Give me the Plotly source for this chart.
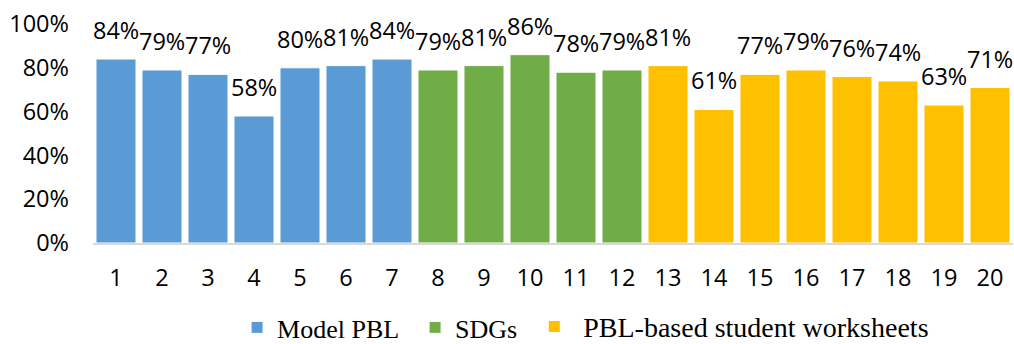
import plotly.graph_objects as go

# Item numbers and scores (%) per group
model_items = [1, 2, 3, 4, 5, 6, 7]
model_scores = [84, 79, 77, 58, 80, 81, 84]
sdg_items = [8, 9, 10, 11, 12]
sdg_scores = [79, 81, 86, 78, 79]
lks_items = [13, 14, 15, 16, 17, 18, 19, 20]
lks_scores = [81, 61, 77, 79, 76, 74, 63, 71]

y_ticks = [0, 20, 40, 60, 80, 100]

groups = [
    ("Model PBL", model_items, model_scores, "#5B9BD5", "legend"),
    ("SDGs", sdg_items, sdg_scores, "#70AD47", "legend"),
    ("PBL-based student worksheets", lks_items, lks_scores, "#FFC000", "legend2"),
]

sans = "Open Sans"
serif = "Liberation Serif"
fsize = 23.5

fig = go.Figure()
annotations = []
for name, items, scores, color, leg in groups:
    fig.add_trace(go.Bar(
        x=items, y=scores, name=name, width=0.87, legend=leg,
        marker=dict(color=color, line=dict(color="white", width=1)),
    ))
    for it, sc in zip(items, scores):
        annotations.append(dict(
            x=it, y=sc, xref="x", yref="y", text=f"{sc}%",
            showarrow=False, yanchor="bottom", yshift=11,
            font=dict(family=sans, size=fsize, color="black"),
        ))

all_items = model_items + sdg_items + lks_items

legend_common = dict(
    orientation="h", xref="container", yref="container",
    xanchor="left", yanchor="middle",
    bgcolor="rgba(0,0,0,0)",
)

fig.update_layout(
    width=1014, height=344,
    margin=dict(l=93, r=1, t=24, b=101),
    paper_bgcolor="white", plot_bgcolor="white",
    barmode="relative",
    annotations=annotations,
    showlegend=True,
    legend=dict(x=0.2338, y=0.048, traceorder="normal", entrywidth=133,
                font=dict(family=serif, size=26, color="black"),
                **legend_common),
    legend2=dict(x=0.518, y=0.05, itemwidth=48,
                 font=dict(family=serif, size=28, color="black"),
                 **legend_common),
    xaxis=dict(
        range=[0.5, 20.5], tickvals=all_items,
        ticktext=[str(i) for i in all_items],
        showline=True, linecolor="#D9D9D9", linewidth=2,
        ticks="", showgrid=False, zeroline=False,
        tickfont=dict(family=sans, size=fsize, color="black"),
        ticklabelstandoff=13,
    ),
    yaxis=dict(
        range=[0, 100], tickvals=y_ticks,
        ticktext=[f"{v}%" for v in y_ticks],
        showgrid=False, zeroline=False, showline=False, ticks="",
        tickfont=dict(family=sans, size=fsize, color="black"),
        ticklabelstandoff=23,
    ),
)

fig.write_html("out.html")
